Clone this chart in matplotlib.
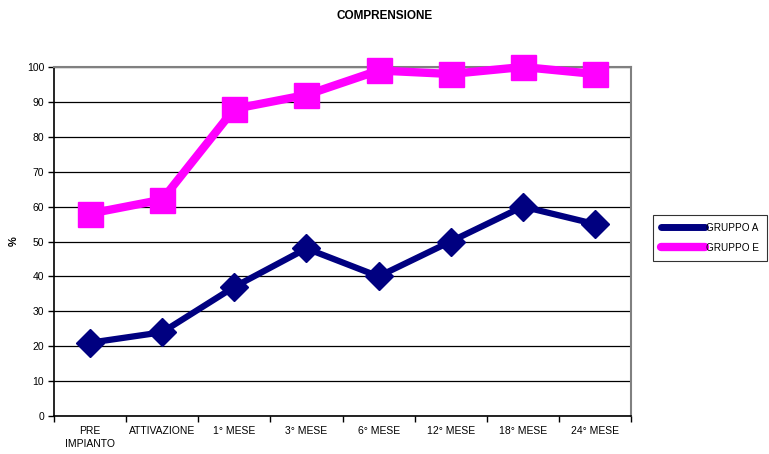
import matplotlib
matplotlib.use('Agg')
import matplotlib.pyplot as plt
from matplotlib.lines import Line2D

plt.rcParams['font.family'] = ['Liberation Sans', 'DejaVu Sans']

categories = ['PRE\nIMPIANTO', 'ATTIVAZIONE', '1° MESE', '3° MESE', '6° MESE',
              '12° MESE', '18° MESE', '24° MESE']
gruppo_a = [21, 24, 37, 48, 40, 50, 60, 55]
gruppo_e = [58, 62, 88, 92, 99, 98, 100, 98]

navy = '#000080'
magenta = '#ff00ff'

fig = plt.figure(figsize=(7.69, 4.54), dpi=100)
ax = fig.add_axes([54 / 769, 38 / 454, 577 / 769, 349 / 454])

x = list(range(len(categories)))
ax.plot(x, gruppo_a, color=navy, lw=4.5, marker='D', ms=14, mec=navy, mfc=navy,
        zorder=3, clip_on=False)
ax.plot(x, gruppo_e, color=magenta, lw=6, marker='s', ms=18, mec=magenta, mfc=magenta,
        zorder=3, clip_on=False)

ax.set_xlim(-0.5, len(categories) - 0.5)
ax.set_ylim(0, 100)
ax.set_yticks(range(0, 101, 10))
ax.set_xticks([i - 0.5 for i in range(len(categories) + 1)])
ax.set_xticklabels([])
ax.set_xticks(x, minor=True)
ax.set_xticklabels(categories, minor=True, fontsize=7.5, linespacing=1.45)
ax.tick_params(axis='x', which='minor', length=0, pad=7)
ax.tick_params(axis='x', which='major', length=4, width=1, color='black')
ax.tick_params(axis='y', length=4, width=1, labelsize=7.5, pad=3)

ax.yaxis.grid(True, color='black', lw=0.9)
ax.set_axisbelow(True)
for s in ['top', 'right']:
    ax.spines[s].set_color('#808080')
    ax.spines[s].set_linewidth(1.5)
for s in ['left', 'bottom']:
    ax.spines[s].set_color('black')
    ax.spines[s].set_linewidth(1.2)

ax.set_ylabel('%', fontsize=8, fontweight='bold', labelpad=6)
fig.text(0.5, 0.965, 'COMPRENSIONE', ha='center', va='center', fontsize=8.5, fontweight='bold')

# legend shows only the lines, with rounded ends
handles = [Line2D([], [], color=navy, lw=5, solid_capstyle='round'),
           Line2D([], [], color=magenta, lw=6, solid_capstyle='round')]
leg = ax.legend(handles, ['GRUPPO A', 'GRUPPO E'], loc='center left',
                bbox_to_anchor=(1.038, 0.511), fontsize=7.2, frameon=True,
                fancybox=False, edgecolor='black', handlelength=4.4,
                handletextpad=0.1, borderpad=0.8, labelspacing=1.0,
                borderaxespad=0)
leg.get_frame().set_linewidth(0.8)

fig.savefig('out.png', dpi=100)
